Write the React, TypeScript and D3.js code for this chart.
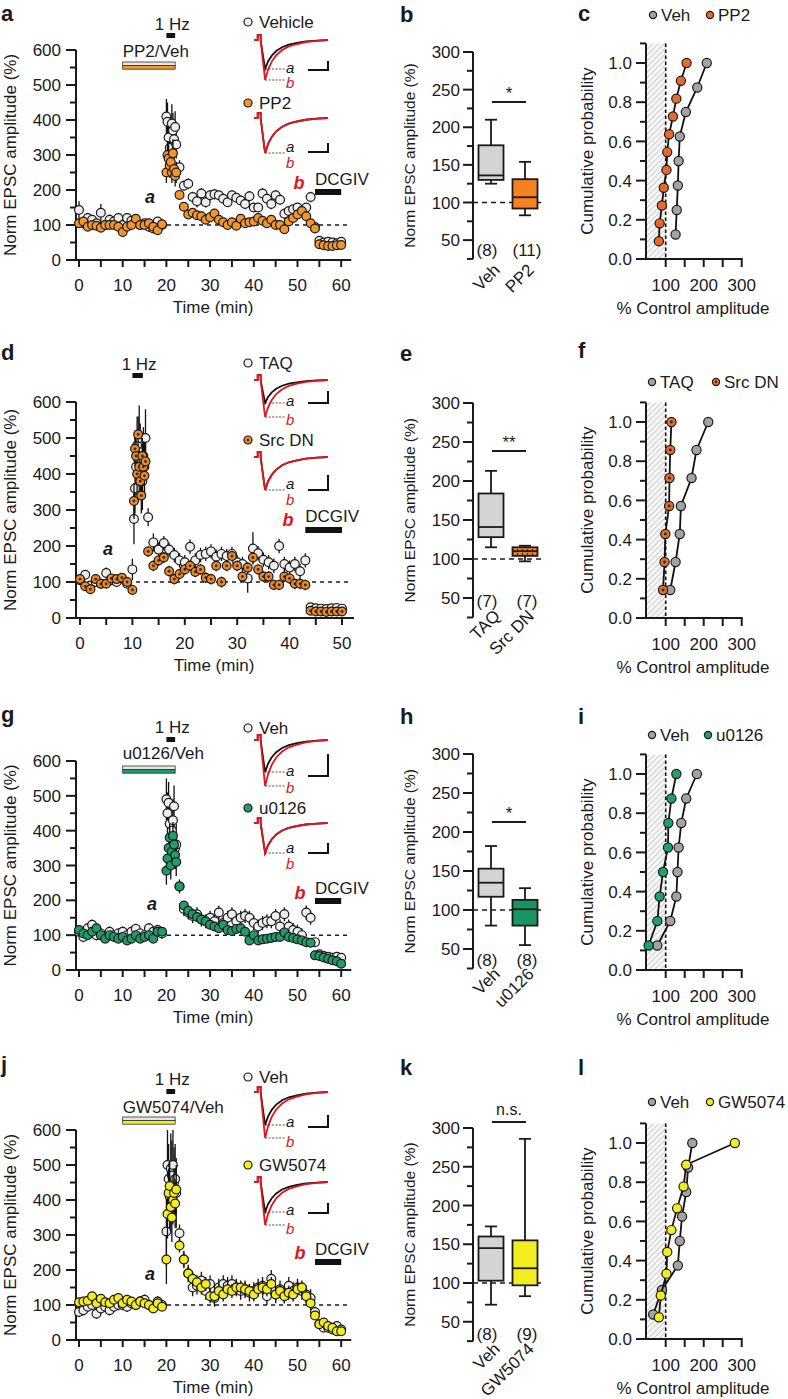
import React from "react";
import * as d3 from "d3";

// ================= DATA =================
const TC_Y_TICKS = [0, 100, 200, 300, 400, 500, 600];
const TC_X_TICKS_60 = [0, 10, 20, 30, 40, 50, 60];
const TC_X_TICKS_50 = [0, 10, 20, 30, 40, 50];
const BOX_Y_TICKS = [50, 100, 150, 200, 250, 300];
const CUM_Y_TICKS = [0, 0.2, 0.4, 0.6, 0.8, 1.0];
const CUM_X_TICKS = [100, 200, 300];

// time (min) for panels a, g, j
const TIME_60 = [0, 1, 2, 3, 4, 5, 6, 7, 8, 9, 10, 11, 12, 13, 14, 15, 16, 17, 18, 19,
  20, 20.25, 20.5, 20.75, 21, 21.25, 21.5, 21.75, 22, 22.25,
  23, 24, 25, 26, 27, 28, 29, 30, 31, 32, 33, 34, 35, 36, 37, 38, 39, 40, 41, 42,
  43, 44, 45, 46, 47, 48, 49, 50, 51, 52, 53, 54, 55, 56, 57, 58, 59, 60];
// time (min) for panel d
const TIME_50 = [0, 1, 2, 3, 4, 5, 6, 7, 8, 9, 10,
  10.3, 10.5, 10.7, 10.9, 11.1, 11.3, 11.5, 11.7, 11.9, 12.1, 12.3, 12.5,
  13, 14, 15, 16, 17, 18, 19, 20, 21, 22, 23, 24, 25, 26, 27, 28, 29, 30, 31, 32,
  33, 34, 35, 36, 37, 38, 39, 40, 41, 42, 43, 44, 45, 46, 47, 48, 49, 50];

// panel a
const A_VEH = [143, 105, 120, 115, 105, 135, 100, 115, 110, 120, 100, 120, 112, 110, 100, 105, 95, 90, 110, 100,
  410, 395, 350, 320, 300, 390, 370, 345, 380, 330,
  265, 212, 218, 180, 168, 190, 165, 185, 188, 185, 175, 165, 185, 178, 170, 160, 182, 150,
  150, 190, 175, 160, 185, 172, 132, 140, 145, 150, 140, 150, 180, 94, 55, 50, 52, 50, 48, 52];
const A_VEH_ERR = [25, 15, 15, 12, 10, 25, 12, 15, 12, 12, 12, 12, 12, 12, 10, 10, 15, 12, 12, 12,
  50, 55, 60, 50, 45, 55, 50, 50, 45, 40,
  20, 15, 15, 15, 18, 15, 15, 15, 15, 12, 12, 12, 12, 12, 12, 15, 15, 12,
  12, 15, 15, 15, 15, 15, 15, 12, 12, 12, 12, 12, 15, 10, 6, 6, 6, 6, 6, 6];
const A_PP2 = [105, 110, 95, 100, 98, 92, 100, 100, 100, 95, 80, 95, 100, 118, 100, 100, 105, 95, 85, 102,
  250, 300, 290, 270, 280, 250, 305, 260, 240, 250,
  186, 152, 130, 135, 128, 125, 115, 122, 133, 115, 108, 100, 108, 98, 118, 105, 108, 110,
  120, 112, 105, 115, 100, 100, 88, 110, 120, 130, 140, 125, 105, 90, 45, 42, 40, 40, 42, 43];
const A_PP2_ERR = [10, 10, 10, 10, 10, 10, 10, 10, 10, 10, 12, 10, 10, 10, 10, 10, 10, 10, 10, 10,
  30, 40, 40, 35, 30, 30, 40, 30, 30, 30,
  12, 12, 10, 10, 10, 10, 10, 10, 10, 10, 10, 10, 10, 10, 10, 10, 10, 10,
  10, 10, 10, 10, 10, 10, 10, 10, 10, 10, 10, 10, 10, 10, 5, 5, 5, 5, 5, 5];

// panel d
const D_TAQ = [105, 120, 90, 100, 95, 125, 105, 100, 110, 95, 135,
  275, 360, 420, 480, 440, 500, 460, 400, 380, 450, 420, 500,
  280, 210, 190, 208, 190, 175, 160, 155, 198, 160, 175, 178, 185, 170, 178, 172, 178, 155,
  150, 110, 193, 180, 162, 155, 145, 200, 150, 140, 150, 130, 160, 30, 27, 26, 25, 27, 28, 26];
const D_TAQ_ERR = [12, 12, 10, 10, 10, 15, 10, 10, 10, 10, 30,
  70, 70, 80, 80, 70, 90, 80, 70, 80, 80, 70, 80,
  25, 25, 20, 20, 20, 20, 20, 20, 20, 20, 20, 20, 20, 20, 20, 20, 20, 20,
  20, 40, 45, 20, 20, 20, 20, 20, 20, 20, 20, 20, 20, 5, 5, 5, 5, 5, 5, 5];
const D_SRC = [108, 88, 80, 108, 95, 95, 110, 108, 112, 100, 78,
  325, 470, 450, 400, 510, 420, 380, 340, 450, 420, 395, 435,
  185, 145, 160, 168, 130, 108, 122, 135, 145, 128, 135, 112, 108, 145, 100, 145, 172, 145,
  115, 140, 168, 135, 115, 115, 92, 92, 115, 110, 95, 95, 92, 20, 18, 18, 17, 18, 18, 18];
const D_SRC_ERR = [8, 8, 8, 8, 8, 8, 8, 8, 8, 8, 8,
  50, 50, 50, 50, 50, 50, 50, 50, 50, 50, 50, 50,
  15, 15, 15, 15, 15, 15, 15, 15, 15, 15, 15, 15, 15, 15, 15, 15, 15, 15,
  15, 15, 15, 15, 15, 15, 15, 15, 15, 15, 15, 15, 15, 4, 4, 4, 4, 4, 4, 4];

// panel g
const G_VEH = [110, 95, 120, 130, 100, 105, 95, 110, 100, 105, 110, 100, 110, 118, 105, 100, 120, 110, 115, 105,
  490, 450, 480, 420, 380, 400, 430, 470, 350, 360,
  240, 175, 165, 155, 160, 145, 140, 150, 140, 165, 135, 150, 160, 140, 150, 155, 150, 135,
  125, 135, 140, 140, 155, 125, 160, 125, 115, 110, 100, 165, 150, 80, 45, 40, 38, 35, 38, 35];
const G_VEH_ERR = [15, 15, 15, 15, 15, 15, 15, 15, 15, 15, 15, 15, 15, 15, 15, 15, 15, 15, 15, 15,
  60, 60, 60, 60, 60, 60, 60, 60, 60, 60,
  20, 20, 20, 20, 20, 20, 20, 20, 20, 20, 20, 20, 20, 20, 20, 20, 20, 20,
  20, 20, 20, 20, 20, 20, 20, 20, 20, 20, 20, 20, 20, 6, 6, 6, 6, 6, 6, 6];
const G_U0126 = [115, 105, 100, 110, 120, 100, 90, 100, 95, 90, 95, 85, 90, 100, 90, 95, 100, 90, 110, 110,
  285, 320, 350, 380, 300, 340, 385, 360, 330, 310,
  240, 185, 170, 160, 152, 145, 140, 130, 125, 120, 130, 115, 112, 118, 120, 110, 85, 100,
  85, 88, 90, 92, 95, 95, 108, 95, 92, 88, 85, 80, 78, 42, 40, 36, 32, 28, 25, 18];
const G_U0126_ERR = [10, 10, 10, 10, 10, 10, 10, 10, 10, 10, 10, 10, 10, 10, 10, 10, 10, 10, 10, 10,
  40, 40, 40, 40, 40, 40, 40, 40, 40, 40,
  10, 10, 10, 10, 10, 10, 10, 10, 10, 10, 10, 10, 10, 10, 10, 10, 10, 10,
  10, 10, 10, 10, 10, 10, 10, 10, 10, 10, 10, 10, 10, 5, 5, 5, 5, 5, 5, 5];

// panel j
const J_VEH = [80, 85, 95, 100, 75, 90, 95, 85, 95, 100, 100, 95, 105, 100, 110, 115, 100, 95, 110, 100,
  310, 500, 460, 410, 490, 470, 500, 450, 460, 420,
  305, 230, 190, 150, 155, 170, 140, 160, 120, 150, 160, 155, 160, 150, 140, 145, 135, 140,
  150, 155, 125, 175, 130, 145, 130, 155, 140, 150, 140, 130, 120, 80, 45, 35, 35, 30, 40, 30];
const J_VEH_ERR = [15, 15, 15, 15, 15, 15, 15, 15, 15, 15, 15, 15, 15, 15, 15, 15, 15, 15, 15, 15,
  100, 100, 100, 100, 100, 100, 100, 100, 100, 100,
  25, 25, 25, 25, 25, 25, 25, 25, 25, 25, 25, 25, 25, 25, 25, 25, 25, 25,
  25, 25, 25, 25, 25, 25, 25, 25, 25, 25, 25, 25, 25, 6, 6, 6, 6, 6, 6, 6];
const J_GW = [108, 110, 112, 125, 105, 118, 108, 105, 115, 120, 105, 115, 110, 100, 110, 105, 100, 90, 105, 95,
  230, 360, 420, 440, 380, 350, 400, 420, 390, 430,
  270, 230, 190, 175, 165, 150, 160, 125, 125, 140, 130, 145, 140, 150, 150, 145, 140, 130,
  145, 150, 145, 160, 130, 140, 125, 135, 130, 145, 150, 125, 105, 70, 45, 50, 40, 35, 25, 25];
const J_GW_ERR = [12, 12, 12, 12, 12, 12, 12, 12, 12, 12, 12, 12, 12, 12, 12, 12, 12, 12, 12, 12,
  70, 70, 70, 70, 70, 70, 70, 70, 70, 70,
  20, 20, 20, 20, 20, 20, 20, 20, 20, 20, 20, 20, 20, 20, 20, 20, 20, 20,
  20, 20, 20, 20, 20, 20, 20, 20, 20, 20, 20, 20, 20, 6, 6, 6, 6, 6, 6, 6];

// box plots: [whisker low, q1, median, q3, whisker high]
const BOX_B_VEH = [125, 130, 136, 176, 210];
const BOX_B_PP2 = [83, 92, 107, 131, 154];
const BOX_E_TAQ = [115, 128, 141, 184, 213];
const BOX_E_SRC = [97, 104, 110, 115, 117];
const BOX_H_VEH = [80, 117, 135, 153, 182];
const BOX_H_U0126 = [55, 80, 101, 113, 128];
const BOX_K_VEH = [72, 103, 145, 160, 173];
const BOX_K_GW = [83, 97, 119, 155, 286];

// cumulative (% control amplitude, sorted)
const CUM_C_VEH = [126, 129, 132, 134, 137, 153, 183, 208];
const CUM_C_PP2 = [82, 84, 90, 95, 102, 104, 109, 119, 128, 140, 155];
const CUM_F_TAQ = [112, 126, 137, 140, 168, 181, 212];
const CUM_F_SRC = [93, 97, 99, 109, 110, 112, 115];
const CUM_I_VEH = [78, 112, 128, 131, 134, 141, 154, 182];
const CUM_I_U0126 = [55, 78, 84, 93, 106, 107, 115, 128];
const CUM_L_VEH = [67, 90, 132, 137, 143, 154, 159, 170];
const CUM_L_GW = [82, 87, 102, 104, 115, 130, 147, 154, 282];

// example EPSC trace shape (normalized time, normalized amplitude)
const TRACE_T = [0, 0.05, 0.05, 0.09, 0.09, 0.11, 0.15, 0.19, 0.24, 0.3, 0.38, 0.47, 0.58, 0.7, 0.85, 1.0];
const TRACE_V = [0, 0, -0.18, -0.18, 0, 0.35, 1.0, 0.74, 0.54, 0.38, 0.25, 0.16, 0.1, 0.05, 0.02, 0];

// ================= STYLE =================
const FONT = "'Liberation Sans', Arial, Helvetica, sans-serif";
const INK = "#1a1a1a";
const RED = "#e3141b";
const OPEN = "#eeeeee";
const GRAY = "#a3a3a3";
const ORANGE = "#f2962d";
const GREEN = "#1f9b6c";
const YELLOW = "#f3ec1e";
const FS = 17;

function Marker({ x, y, r, fill, dot }: any) {
  return (
    <g>
      <circle cx={x} cy={y} r={r} fill={fill} stroke={INK} strokeWidth={1.2} />
      {dot && <circle cx={x} cy={y} r={r * 0.32} fill="#3b2408" />}
    </g>
  );
}

function Trace({ tr }: any) {
  const x = d3.scaleLinear().domain([0, 1]).range([254, 328]);
  const mk = (amp: number) =>
    d3.line<number>()
      .x((_, i) => x(TRACE_T[i]))
      .y((v) => tr.base + (v < 0 ? v * 28 : v * amp))(TRACE_V) as string;
  const tx = x(0.15);
  return (
    <g>
      <line x1={tx} x2={285} y1={tr.a} y2={tr.a} stroke="#8a8a8a" strokeWidth={1.6} strokeDasharray="2,1.5" />
      {tr.b !== tr.a && (
        <line x1={tx} x2={285} y1={tr.b} y2={tr.b} stroke="#8a8a8a" strokeWidth={1.6} strokeDasharray="2,1.5" />
      )}
      <path d={mk(tr.a - tr.base)} fill="none" stroke="#111" strokeWidth={1.8} />
      <path d={mk(tr.b - tr.base)} fill="none" stroke={RED} strokeWidth={1.8} />
      <text x={286} y={tr.la} fontStyle="italic" fontSize={15}>a</text>
      <text x={286} y={tr.lb} fontStyle="italic" fontSize={15} fill={RED}>b</text>
      <path d={`M308,${tr.sb}H328V${tr.st}`} fill="none" stroke="#111" strokeWidth={2} />
    </g>
  );
}

function TimeCourse({ c }: any) {
  const x = d3.scaleLinear().domain([0, c.tickMax]).range([c.xStart, c.xEnd]);
  const y = d3.scaleLinear().domain([0, 600]).range([c.y0, c.y600]);
  const AX = 76;
  const minorX = d3.range(0, c.tickMax + 0.01, 5);
  const minorY = d3.range(0, 601, 50);
  return (
    <g>
      <text x={1} y={c.letterY} fontSize={22} fontWeight="bold">{c.letter}</text>
      {/* axes */}
      <line x1={AX} x2={AX} y1={y(600)} y2={y(0)} stroke={INK} strokeWidth={2} />
      {minorY.map((v) => (
        <line key={v} x1={AX - (v % 100 === 0 ? 10 : 6)} x2={AX} y1={y(v)} y2={y(v)} stroke={INK} strokeWidth={2} />
      ))}
      {TC_Y_TICKS.map((v) => (
        <text key={v} x={61} y={y(v)} dy="0.36em" textAnchor="end">{v}</text>
      ))}
      <text transform={`translate(10,${(y(0) + y(600)) / 2}) rotate(-90)`} textAnchor="middle" dy="0.36em" fontSize={17}>
        Norm EPSC amplitude (%)
      </text>
      <line x1={AX} x2={x(c.tickMax + 2.3)} y1={c.y0} y2={c.y0} stroke={INK} strokeWidth={2} />
      {minorX.map((t) => (
        <line key={t} x1={x(t)} x2={x(t)} y1={c.y0} y2={c.y0 + 7} stroke={INK} strokeWidth={2} />
      ))}
      {c.xTicks.map((t: number) => (
        <text key={t} x={x(t)} y={c.y0 + 31} textAnchor="middle">{t}</text>
      ))}
      <text x={(x(0) + x(c.tickMax)) / 2 + 3} y={c.y0 + 53} textAnchor="middle">Time (min)</text>
      {/* dashed 100 line */}
      <line x1={x(0)} x2={x(c.tickMax + 1.5)} y1={y(100)} y2={y(100)} stroke={INK} strokeWidth={1.5} strokeDasharray="4,4" />
      {/* 1 Hz */}
      <text x={(x(c.hz[0]) + x(c.hz[1])) / 2 + 1.5} y={c.hzTextY} textAnchor="middle">1 Hz</text>
      <rect x={x(c.hz[0])} width={x(c.hz[1]) - x(c.hz[0])} y={c.hzBarY} height={5} fill="#111" />
      {/* drug bar */}
      {c.drug && (
        <g>
          <text x={x(c.drug.t0)} y={c.drug.textY}>{c.drug.label}</text>
          <rect x={x(c.drug.t0)} width={x(c.drug.t1) - x(c.drug.t0)} y={c.drug.barY} height={3.6} fill="#e6e6e6" stroke="#333" strokeWidth={0.8} />
          <rect x={x(c.drug.t0)} width={x(c.drug.t1) - x(c.drug.t0)} y={c.drug.barY + 3.6} height={3.6} fill={c.drug.color} stroke="#333" strokeWidth={0.8} />
        </g>
      )}
      {/* DCGIV */}
      <text x={x(c.dcgiv.t0)} y={c.dcgiv.textY}>DCGIV</text>
      <rect x={x(c.dcgiv.t0)} width={x(c.dcgiv.t1) - x(c.dcgiv.t0)} y={c.dcgiv.barY} height={6} fill="#111" />
      {/* labels a / b */}
      <text x={c.aLab[0]} y={c.aLab[1]} textAnchor="middle" fontStyle="italic" fontWeight="bold" fontSize={18}>a</text>
      <text x={c.bLab[0]} y={c.bLab[1]} textAnchor="middle" fontStyle="italic" fontWeight="bold" fontSize={18} fill={RED}>b</text>
      {/* legend */}
      {c.legend.map((l: any, i: number) => (
        <g key={i}>
          <Marker x={248} y={l.y} r={4} fill={l.fill} dot={l.dot} />
          <text x={259} y={l.y} dy="0.36em">{l.label}</text>
        </g>
      ))}
      {c.traces.map((tr: any, i: number) => <Trace key={i} tr={tr} />)}
      {/* data */}
      {c.series.map((s: any, si: number) => (
        <g key={si}>
          {s.v.map((v: number, i: number) => (
            <line key={i} x1={x(c.t[i])} x2={x(c.t[i])} y1={y(v - s.e[i])} y2={y(v + s.e[i])} stroke="#111" strokeWidth={1.3} />
          ))}
          {s.v.map((v: number, i: number) => (
            <Marker key={i} x={x(c.t[i])} y={y(v)} r={4.4} fill={s.fill} dot={s.dot} />
          ))}
        </g>
      ))}
    </g>
  );
}

function BoxPanel({ c }: any) {
  const y = d3.scaleLinear().domain([100, 300]).range([c.y100, c.y300]);
  const AX = 473;
  const cxs = [491, 525];
  const bw = 25;
  const cw = 12;
  return (
    <g>
      <text x={400} y={c.letterY} fontSize={22} fontWeight="bold">{c.letter}</text>
      <line x1={AX} x2={AX} y1={y(300)} y2={y(25)} stroke={INK} strokeWidth={2} />
      {d3.range(25, 301, 25).map((v) => (
        <line key={v} x1={AX - (v % 50 === 0 ? 10 : 6)} x2={AX} y1={y(v)} y2={y(v)} stroke={INK} strokeWidth={2} />
      ))}
      {BOX_Y_TICKS.map((v) => (
        <text key={v} x={460} y={y(v)} dy="0.36em" textAnchor="end">{v}</text>
      ))}
      <text transform={`translate(409,${(y(300) + y(25)) / 2}) rotate(-90)`} textAnchor="middle" dy="0.36em" fontSize={15.5}>
        Norm EPSC amplitude (%)
      </text>
      <line x1={AX} x2={544} y1={y(100)} y2={y(100)} stroke={INK} strokeWidth={1.5} strokeDasharray="5,4" />
      {c.boxes.map((b: any, i: number) => {
        const [lo, q1, md, q3, hi] = b.s;
        const cx = cxs[i];
        return (
          <g key={i}>
            <line x1={cx} x2={cx} y1={y(hi)} y2={y(q3)} stroke={INK} strokeWidth={1.8} />
            <line x1={cx} x2={cx} y1={y(q1)} y2={y(lo)} stroke={INK} strokeWidth={1.8} />
            <line x1={cx - cw / 2} x2={cx + cw / 2} y1={y(hi)} y2={y(hi)} stroke={INK} strokeWidth={1.8} />
            <line x1={cx - cw / 2} x2={cx + cw / 2} y1={y(lo)} y2={y(lo)} stroke={INK} strokeWidth={1.8} />
            <rect x={cx - bw / 2} width={bw} y={y(q3)} height={y(q1) - y(q3)} fill={b.fill} stroke={INK} strokeWidth={1.8} />
            <line x1={cx - bw / 2} x2={cx + bw / 2} y1={y(md)} y2={y(md)} stroke={INK} strokeWidth={1.8} />
          </g>
        );
      })}
      <line x1={492} x2={526} y1={c.sigY} y2={c.sigY} stroke={INK} strokeWidth={2} />
      <text x={509} y={c.sigTextY} textAnchor="middle" fontSize={c.sig === "n.s." ? 16 : 17}>{c.sig}</text>
      {c.n.map((t: string, i: number) => (
        <text key={i} x={[487, 527][i]} y={c.nY} dy="0.36em" textAnchor="middle">{t}</text>
      ))}
      {c.cats.map((t: string, i: number) => (
        <text key={i} transform={`translate(${cxs[i] + 10},${c.labY}) rotate(-45)`} textAnchor="end">{t}</text>
      ))}
    </g>
  );
}

function CumPanel({ c }: any) {
  const x = d3.scaleLinear().domain([50, 300]).range([646.7, 741.7]);
  const y = d3.scaleLinear().domain([0, 1]).range([c.y0, c.y1]);
  const AX = 646;
  const f = d3.format(".1f");
  return (
    <g>
      <text x={578} y={c.letterY} fontSize={22} fontWeight="bold">{c.letter}</text>
      <rect x={x(50)} width={x(100) - x(50)} y={y(1.1)} height={y(0) - y(1.1)} fill="url(#hatch)" />
      <line x1={x(100)} x2={x(100)} y1={y(1.1)} y2={y(0)} stroke="#111" strokeWidth={1.6} strokeDasharray="3.5,2.5" />
      <line x1={AX} x2={AX} y1={y(1.1)} y2={y(0)} stroke={INK} strokeWidth={2} />
      {d3.range(0, 12).map((k) => (
        <line key={k} x1={AX - (k % 2 === 0 ? 10 : 6)} x2={AX} y1={y(k / 10)} y2={y(k / 10)} stroke={INK} strokeWidth={2} />
      ))}
      {CUM_Y_TICKS.map((v) => (
        <text key={v} x={632} y={y(v)} dy="0.36em" textAnchor="end">{f(v)}</text>
      ))}
      <text transform={`translate(587,${(y(0) + y(1.1)) / 2}) rotate(-90)`} textAnchor="middle" dy="0.36em">
        Cumulative probability
      </text>
      <line x1={AX} x2={x(300) + 1} y1={y(0)} y2={y(0)} stroke={INK} strokeWidth={2} />
      {[100, 150, 200, 250, 300].map((v) => (
        <line key={v} x1={x(v)} x2={x(v)} y1={y(0)} y2={y(0) + 8} stroke={INK} strokeWidth={2} />
      ))}
      {CUM_X_TICKS.map((v) => (
        <text key={v} x={x(v)} y={y(0) + 32} textAnchor="middle">{v}</text>
      ))}
      <text x={693} y={y(0) + 55} textAnchor="middle">% Control amplitude</text>
      {c.series.map((s: any, si: number) => {
        const n = s.v.length;
        const line = d3.line<number>().x((v) => x(v)).y((_, i) => y((i + 1) / n));
        return (
          <g key={si}>
            <path d={line(s.v) as string} fill="none" stroke="#111" strokeWidth={1.8} />
            {s.v.map((v: number, i: number) => (
              <Marker key={i} x={x(v)} y={y((i + 1) / n)} r={4.6} fill={s.fill} dot={s.dot} />
            ))}
          </g>
        );
      })}
      {c.legend.map((l: any, i: number) => (
        <g key={i}>
          <Marker x={l.x} y={c.legendY} r={3.6} fill={l.fill} dot={l.dot} />
          <text x={l.x + 8} y={c.legendY} dy="0.36em">{l.label}</text>
        </g>
      ))}
    </g>
  );
}

// ================= PANEL CONFIGS (layout) =================
const panelA = {
  letter: "a", letterY: 21, y600: 50, y0: 260, xStart: 79, xEnd: 341.2, tickMax: 60, xTicks: TC_X_TICKS_60,
  t: TIME_60,
  series: [
    { v: A_VEH, e: A_VEH_ERR, fill: OPEN },
    { v: A_PP2, e: A_PP2_ERR, fill: ORANGE },
  ],
  hz: [20, 22], hzTextY: 30, hzBarY: 33,
  drug: { label: "PP2/Veh", t0: 10, t1: 22, textY: 57, barY: 62, color: ORANGE },
  dcgiv: { t0: 54, t1: 60, textY: 185, barY: 189 },
  aLab: [150, 203], bLab: [299, 189],
  legend: [{ label: "Vehicle", y: 22, fill: OPEN }, { label: "PP2", y: 103, fill: ORANGE }],
  traces: [
    { base: 40, a: 69, b: 80, la: 73, lb: 88, sb: 70, st: 61 },
    { base: 118, a: 153, b: 153, la: 152, lb: 168, sb: 152, st: 143 },
  ],
};

const panelD = {
  letter: "d", letterY: 360, y600: 402, y0: 618, xStart: 80, xEnd: 342, tickMax: 50, xTicks: TC_X_TICKS_50,
  t: TIME_50,
  series: [
    { v: D_TAQ, e: D_TAQ_ERR, fill: OPEN },
    { v: D_SRC, e: D_SRC_ERR, fill: "#e8892a", dot: true },
  ],
  hz: [10, 12], hzTextY: 370, hzBarY: 373,
  drug: null,
  dcgiv: { t0: 43, t1: 50, textY: 522, barY: 527 },
  aLab: [108, 555], bLab: [288, 526],
  legend: [{ label: "TAQ", y: 363, fill: OPEN }, { label: "Src DN", y: 440, fill: "#e8892a", dot: true }],
  traces: [
    { base: 380, a: 403, b: 417, la: 406, lb: 425, sb: 403, st: 391 },
    { base: 457, a: 490, b: 490, la: 489, lb: 505, sb: 490, st: 475 },
  ],
};

const panelG = {
  letter: "g", letterY: 722, y600: 761, y0: 970, xStart: 79, xEnd: 341.2, tickMax: 60, xTicks: TC_X_TICKS_60,
  t: TIME_60,
  series: [
    { v: G_VEH, e: G_VEH_ERR, fill: OPEN },
    { v: G_U0126, e: G_U0126_ERR, fill: GREEN },
  ],
  hz: [20, 22], hzTextY: 733, hzBarY: 737,
  drug: { label: "u0126/Veh", t0: 10, t1: 22, textY: 759, barY: 766, color: GREEN },
  dcgiv: { t0: 54, t1: 60, textY: 894, barY: 898 },
  aLab: [152, 910], bLab: [300, 899],
  legend: [{ label: "Veh", y: 728, fill: OPEN }, { label: "u0126", y: 808, fill: GREEN }],
  traces: [
    { base: 740, a: 772, b: 786, la: 776, lb: 793, sb: 776, st: 754 },
    { base: 823, a: 853, b: 853, la: 853, lb: 869, sb: 853, st: 843 },
  ],
};

const panelJ = {
  letter: "j", letterY: 1072, y600: 1130, y0: 1340, xStart: 79, xEnd: 341.2, tickMax: 60, xTicks: TC_X_TICKS_60,
  t: TIME_60,
  series: [
    { v: J_VEH, e: J_VEH_ERR, fill: OPEN },
    { v: J_GW, e: J_GW_ERR, fill: YELLOW },
  ],
  hz: [20, 22], hzTextY: 1085, hzBarY: 1089,
  drug: { label: "GW5074/Veh", t0: 10, t1: 22, textY: 1113, barY: 1117, color: YELLOW },
  dcgiv: { t0: 54, t1: 60, textY: 1255, barY: 1259 },
  aLab: [150, 1280], bLab: [300, 1259],
  legend: [{ label: "Veh", y: 1077, fill: OPEN }, { label: "GW5074", y: 1165, fill: YELLOW }],
  traces: [
    { base: 1092, a: 1125, b: 1138, la: 1127, lb: 1147, sb: 1127, st: 1115 },
    { base: 1182, a: 1212, b: 1225, la: 1215, lb: 1234, sb: 1213, st: 1203 },
  ],
};

const boxB = {
  letter: "b", letterY: 22, y300: 52, y100: 202.5,
  boxes: [{ s: BOX_B_VEH, fill: "#d4d4d4" }, { s: BOX_B_PP2, fill: "#f5821f" }],
  sig: "*", sigY: 102, sigTextY: 99, n: ["(8)", "(11)"], nY: 250, cats: ["Veh", "PP2"], labY: 271,
};
const boxE = {
  letter: "e", letterY: 361, y300: 403, y100: 559,
  boxes: [{ s: BOX_E_TAQ, fill: "#d4d4d4" }, { s: BOX_E_SRC, fill: "url(#dots)" }],
  sig: "**", sigY: 451, sigTextY: 448, n: ["(7)", "(7)"], nY: 601, cats: ["TAQ", "Src DN"], labY: 617,
};
const boxH = {
  letter: "h", letterY: 724, y300: 754, y100: 910,
  boxes: [{ s: BOX_H_VEH, fill: "#d4d4d4" }, { s: BOX_H_U0126, fill: "#1a9463" }],
  sig: "*", sigY: 822, sigTextY: 819, n: ["(8)", "(8)"], nY: 960, cats: ["Veh", "u0126"], labY: 975,
};
const boxK = {
  letter: "k", letterY: 1075, y300: 1128, y100: 1283,
  boxes: [{ s: BOX_K_VEH, fill: "#d4d4d4" }, { s: BOX_K_GW, fill: YELLOW }],
  sig: "n.s.", sigY: 1122, sigTextY: 1115, n: ["(8)", "(9)"], nY: 1334, cats: ["Veh", "GW5074"], labY: 1350,
};

const cumC = {
  letter: "c", letterY: 21, y1: 63, y0: 259, legendY: 15,
  series: [{ v: CUM_C_VEH, fill: GRAY }, { v: CUM_C_PP2, fill: "#e8692d" }],
  legend: [{ x: 653, label: "Veh", fill: GRAY }, { x: 710, label: "PP2", fill: "#e8692d" }],
};
const cumF = {
  letter: "f", letterY: 358, y1: 422, y0: 618, legendY: 382,
  series: [{ v: CUM_F_TAQ, fill: GRAY }, { v: CUM_F_SRC, fill: "#e0702c", dot: true }],
  legend: [{ x: 652, label: "TAQ", fill: GRAY }, { x: 716, label: "Src DN", fill: "#e0702c", dot: true }],
};
const cumI = {
  letter: "i", letterY: 724, y1: 774, y0: 970, legendY: 735,
  series: [{ v: CUM_I_VEH, fill: GRAY }, { v: CUM_I_U0126, fill: "#1fa06d" }],
  legend: [{ x: 652, label: "Veh", fill: GRAY }, { x: 708, label: "u0126", fill: "#1fa06d" }],
};
const cumL = {
  letter: "l", letterY: 1075, y1: 1143, y0: 1339, legendY: 1102,
  series: [{ v: CUM_L_VEH, fill: GRAY }, { v: CUM_L_GW, fill: YELLOW }],
  legend: [{ x: 652, label: "Veh", fill: GRAY }, { x: 710, label: "GW5074", fill: YELLOW }],
};

export default function App() {
  return (
    <svg
      width={788}
      height={1399}
      style={{ position: "absolute", left: 0, top: 0, background: "#fff" }}
      fontFamily={FONT}
      fontSize={FS}
      fill={INK}
    >
      <defs>
        <pattern id="hatch" width={4} height={4} patternUnits="userSpaceOnUse" patternTransform="rotate(45)">
          <rect width={4} height={4} fill="#f7f7f7" />
          <line x1={0} y1={0} x2={0} y2={4} stroke="#b8b8b8" strokeWidth={1.3} />
        </pattern>
        <pattern id="dots" width={5} height={4} patternUnits="userSpaceOnUse">
          <rect width={5} height={4} fill="#f0862a" />
          <circle cx={2.5} cy={2} r={0.9} fill="#4a2a08" />
        </pattern>
      </defs>
      <TimeCourse c={panelA} />
      <TimeCourse c={panelD} />
      <TimeCourse c={panelG} />
      <TimeCourse c={panelJ} />
      <BoxPanel c={boxB} />
      <BoxPanel c={boxE} />
      <BoxPanel c={boxH} />
      <BoxPanel c={boxK} />
      <CumPanel c={cumC} />
      <CumPanel c={cumF} />
      <CumPanel c={cumI} />
      <CumPanel c={cumL} />
    </svg>
  );
}
